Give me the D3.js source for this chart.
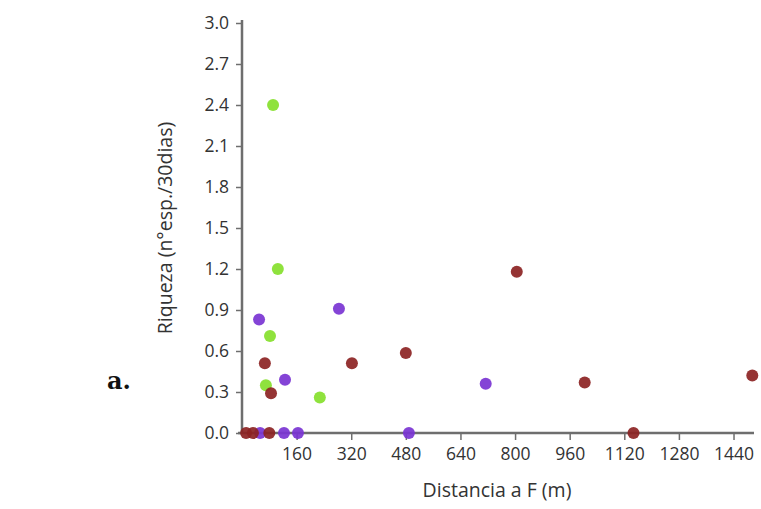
<!DOCTYPE html>
<html>
<head>
<meta charset="utf-8">
<script src="https://cdn.jsdelivr.net/npm/d3@7"></script>
<style>
  body { margin: 0; background: #fff; }
  text { font-family: "Open Sans", "DejaVu Sans", sans-serif; }
</style>
</head>
<body>
<div id="chart"></div>
<script>
// axis ticks
var xTicks = [160, 320, 480, 640, 800, 960, 1120, 1280, 1440];
var yTicks = [0, 0.3, 0.6, 0.9, 1.2, 1.5, 1.8, 2.1, 2.4, 2.7, 3.0];

// series (distance m, richness)
var greenX = [91, 105, 82, 70, 228];
var greenY = [2.4, 1.2, 0.71, 0.35, 0.26];
var purpleX = [50, 284, 126, 714, 53, 123, 164, 489];
var purpleY = [0.83, 0.91, 0.39, 0.36, 0, 0, 0, 0];
var redX = [67, 85, 322, 480, 805, 1004, 1495, 1147, 12, 32, 80];
var redY = [0.51, 0.29, 0.51, 0.585, 1.18, 0.37, 0.42, 0, 0, 0, 0];

var width = 761, height = 509;
var x0 = 242, x1 = 754, y0 = 433, y1 = 23;

var svg = d3.select('#chart').append('svg')
  .attr('width', width)
  .attr('height', height);

var x = d3.scaleLinear().domain([0, 1500]).range([x0, x1]);
var y = d3.scaleLinear().domain([0, 3]).range([y0, y1]);

var series = [
  { xs: purpleX, ys: purpleY, color: '#7a34d2' },
  { xs: greenX, ys: greenY, color: '#86e02c' },
  { xs: redX, ys: redY, color: '#8c2323' }
];

var yAxis = svg.append('g')
  .attr('transform', 'translate(' + x0 + ',0)')
  .call(d3.axisLeft(y).tickValues(yTicks).tickFormat(d3.format('.1f')).tickSize(6).tickPadding(7));

var xAxis = svg.append('g')
  .attr('transform', 'translate(0,' + y0 + ')')
  .call(d3.axisBottom(x).tickValues(xTicks).tickFormat(d3.format('d')).tickSize(7).tickPadding(8));

[xAxis, yAxis].forEach(function (g) {
  g.select('.domain').attr('stroke', '#6e6e6e').attr('stroke-width', 2.5);
  g.selectAll('.tick line').attr('stroke', '#6e6e6e').attr('stroke-width', 1.5);
  g.selectAll('.tick text').attr('fill', '#333').attr('font-size', 17.5)
    .attr('font-family', '"Open Sans", "DejaVu Sans", sans-serif');
});
// plain axis lines, no end caps
xAxis.select('.domain').attr('d', 'M' + (x0 - 4) + ',0H' + x1);
yAxis.select('.domain').attr('d', 'M0,' + (y1 - 3) + 'V' + y0);

series.forEach(function (s) {
  svg.append('g').selectAll('circle')
    .data(s.xs.map(function (v, i) { return [v, s.ys[i]]; }))
    .enter()
    .append('circle')
    .attr('cx', function (d) { return x(d[0]); })
    .attr('cy', function (d) { return y(d[1]); })
    .attr('r', 6)
    .attr('fill', s.color)
    .attr('fill-opacity', 0.92);
});

svg.append('text')
  .attr('x', 497)
  .attr('y', 497)
  .attr('text-anchor', 'middle')
  .attr('font-size', 19.5)
  .attr('fill', '#333')
  .text('Distancia a F (m)');

svg.append('text')
  .attr('transform', 'translate(172,228) rotate(-90)')
  .attr('text-anchor', 'middle')
  .attr('font-size', 19.5)
  .attr('fill', '#333')
  .text('Riqueza (n°esp./30dias)');

svg.append('text')
  .attr('x', 107)
  .attr('y', 389)
  .style('font-family', '"DejaVu Serif", "Liberation Serif", serif')
  .attr('font-weight', 'bold')
  .attr('font-size', 24)
  .attr('fill', '#111')
  .text('a.');
</script>
</body>
</html>
